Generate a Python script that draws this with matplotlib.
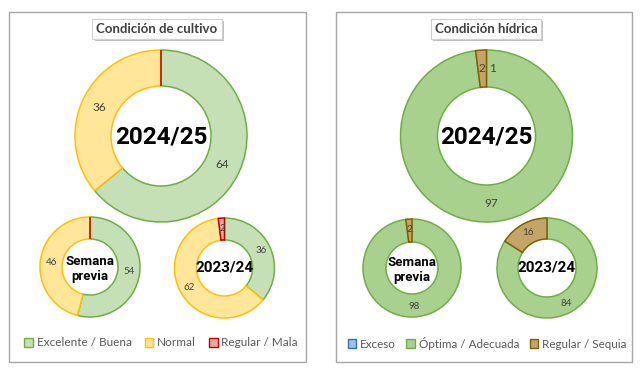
import matplotlib
matplotlib.use("Agg")
import matplotlib.pyplot as plt
import matplotlib.patheffects as pe
from matplotlib.patches import Rectangle, Patch
from matplotlib import font_manager
import numpy as np

# ---------------- data ----------------
cult_categories = ["Excelente / Buena", "Normal", "Regular / Mala"]
cult_2425 = [64, 36, 0]
cult_prev = [54, 46, 0]
cult_2324 = [36, 62, 2]

hid_categories = ["Exceso", "Óptima / Adecuada", "Regular / Sequia"]
# order: Exceso, Óptima, Regular/Sequía
hid_2425 = [0, 97, 2]
hid_prev = [0, 98, 2]
hid_2324 = [0, 84, 16]
hid_2425_exceso_label = "1"

center_labels = ["2024/25", "Semana\nprevia", "2023/24"]
titles = ["Condición de cultivo", "Condición hídrica"]

# ---------------- styles ----------------
cult_fill = ["#c5e0b4", "#ffe699", "#f4a6a6"]
cult_edge = ["#70ad47", "#ffc000", "#c00000"]
hid_fill = ["#9dc3e6", "#a9d18e", "#c4a567"]
hid_edge = ["#2e75b6", "#70ad47", "#7f6000"]

names = {f.name for f in font_manager.fontManager.ttflist}
NARROW = "Liberation Sans Narrow" in names
CENTER_FONT = "Liberation Sans Narrow" if NARROW else "Roboto"

W, H = 640, 368
fig = plt.figure(figsize=(W / 100, H / 100), dpi=100)
ax = fig.add_axes([0, 0, 1, 1])
ax.set_xlim(0, W)
ax.set_ylim(0, H)
ax.set_aspect("equal")
ax.axis("off")

LBL = ["Lato", "DejaVu Sans"]


def Y(y):
    return H - y


def donut(vals, fills, edges, cx, cy, r, w, fs, lbl_r, extra=None):
    wedges, _ = ax.pie(vals, colors=fills, startangle=90, counterclock=False,
                       center=(cx, Y(cy)), radius=r, normalize=True,
                       wedgeprops=dict(width=w, linewidth=1.1))
    for wd, e in zip(wedges, edges):
        wd.set_edgecolor(e)
    total = float(sum(vals))
    start = 0.0
    for v in vals:
        if v > 0:
            mid = np.deg2rad(start + 360 * v / total / 2)
            ax.text(cx + lbl_r * np.sin(mid), Y(cy) + lbl_r * np.cos(mid), f"{v}",
                    ha="center", va="center", fontsize=fs, color="#404040",
                    family=LBL)
        start += 360 * v / total
    if extra:
        ax.text(cx + extra[1], Y(cy) + lbl_r * 0.99, extra[0], ha="center",
                va="center", fontsize=fs, color="#404040", family=LBL)


def center_text(txt, cx, cy, fs):
    ax.text(cx, Y(cy), txt, ha="center", va="center", fontsize=fs,
            fontweight="bold", family=[CENTER_FONT, "DejaVu Sans"],
            color="black", linespacing=1.2)


# panels
for x0, x1 in [(9, 306), (336, 632)]:
    ax.add_patch(Rectangle((x0, Y(362)), x1 - x0, 350, fill=False,
                           ec="#a6a6a6", lw=1.0))

# titles
for t, cx in zip(titles, [157, 486]):
    tt = ax.text(cx, Y(29), t, ha="center", va="center", fontsize=9.5,
                 color="#404040", family=LBL, fontweight="bold",
                 bbox=dict(boxstyle="square,pad=0.3", fc="white", ec="#d0d0d0", lw=0.8))
    tt.get_bbox_patch().set_path_effects(
        [pe.withSimplePatchShadow(offset=(1.5, -1.5), shadow_rgbFace="#999999", alpha=0.6)])

big_fs = 20.5 if NARROW else 17.5
sem_fs = 10.5 if NARROW else 9.5
yr_fs = 12 if NARROW else 11

# cultivo donuts
donut(cult_2425, cult_fill, cult_edge, 161, 136, 86, 36, 8.5, 68)
donut(cult_prev, cult_fill, cult_edge, 90, 267, 50, 22, 7, 39)
donut(cult_2324, cult_fill, cult_edge, 224.5, 268, 50, 22, 7, 40)
center_text(center_labels[0], 161, 137, big_fs)
center_text(center_labels[1], 90, 269, sem_fs)
center_text(center_labels[2], 224.5, 268, yr_fs)

# hidrica donuts
donut(hid_2425, hid_fill, hid_edge, 486.5, 136, 86, 37, 8.5, 68,
      extra=(hid_2425_exceso_label, 6.5))
donut(hid_prev, hid_fill, hid_edge, 412, 268, 49, 23, 7, 39)
donut(hid_2324, hid_fill, hid_edge, 547, 268, 50, 21, 7, 40)
center_text(center_labels[0], 486.5, 137, big_fs)
center_text(center_labels[1], 412, 270, sem_fs)
center_text(center_labels[2], 547, 268, yr_fs)

# legends
def legend(cats, fills, edges, cx, fs, cs):
    handles = [Patch(facecolor=f, edgecolor=e, lw=1.0) for f, e in zip(fills, edges)]
    lg = ax.legend(handles, cats, loc="center", bbox_to_anchor=(cx / W, 1 - 343 / H),
                   bbox_transform=fig.transFigure, ncol=3, frameon=False,
                   handlelength=0.75, handleheight=0.75, handletextpad=0.3,
                   columnspacing=cs, borderaxespad=0,
                   prop=dict(family=LBL, size=fs))
    for t in lg.get_texts():
        t.set_color("#595959")
    return lg

lg1 = legend(cult_categories, cult_fill, cult_edge, 161, 8.5, 1.1)
ax.add_artist(lg1)
legend(hid_categories, hid_fill, hid_edge, 487, 8.4, 0.9)

ax.set_xlim(0, W)
ax.set_ylim(0, H)
fig.savefig("out.png", dpi=100, facecolor="white")
